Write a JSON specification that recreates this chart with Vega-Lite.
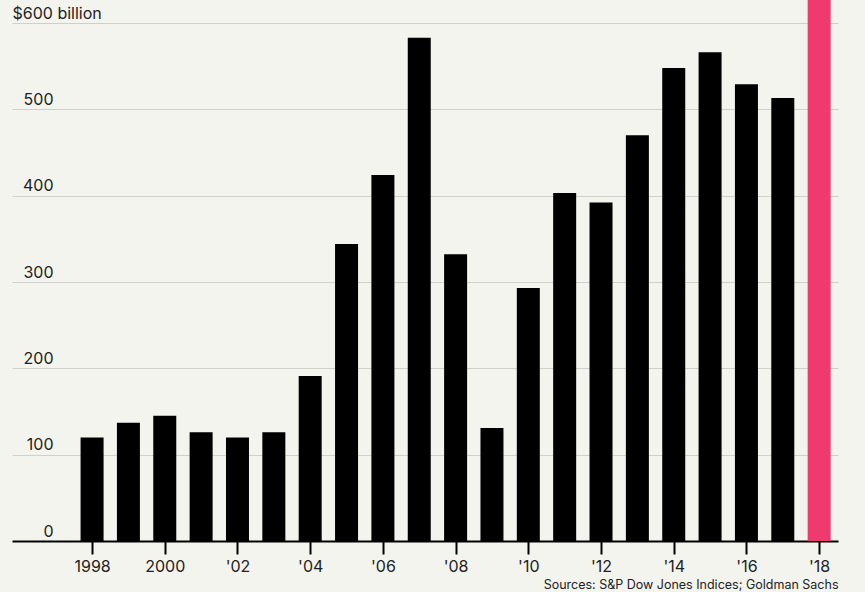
{
  "$schema": "https://vega.github.io/schema/vega-lite/v6.json",
  "width": 826,
  "height": 518,
  "autosize": "none",
  "padding": {"left": 12, "top": 23, "right": 27, "bottom": 51},
  "background": "#f4f4ef",
  "config": {
    "view": {"stroke": null},
    "font": "Inter"
  },
  "data": {
    "values": [
      {"year": 1998, "value": 120, "projected": "no"},
      {"year": 1999, "value": 137, "projected": "no"},
      {"year": 2000, "value": 145, "projected": "no"},
      {"year": 2001, "value": 126, "projected": "no"},
      {"year": 2002, "value": 120, "projected": "no"},
      {"year": 2003, "value": 126, "projected": "no"},
      {"year": 2004, "value": 191, "projected": "no"},
      {"year": 2005, "value": 344, "projected": "no"},
      {"year": 2006, "value": 424, "projected": "no"},
      {"year": 2007, "value": 583, "projected": "no"},
      {"year": 2008, "value": 332, "projected": "no"},
      {"year": 2009, "value": 131, "projected": "no"},
      {"year": 2010, "value": 293, "projected": "no"},
      {"year": 2011, "value": 403, "projected": "no"},
      {"year": 2012, "value": 392, "projected": "no"},
      {"year": 2013, "value": 470, "projected": "no"},
      {"year": 2014, "value": 548, "projected": "no"},
      {"year": 2015, "value": 566, "projected": "no"},
      {"year": 2016, "value": 529, "projected": "no"},
      {"year": 2017, "value": 513, "projected": "no"},
      {"year": 2018, "value": 660, "projected": "yes"}
    ]
  },
  "mark": {"type": "bar", "size": 23, "clip": false},
  "encoding": {
    "x": {
      "field": "year",
      "type": "quantitative",
      "scale": {"domain": [1995.935, 2018.381], "nice": false, "zero": false},
      "axis": {
        "values": [1998, 2000, 2002, 2004, 2006, 2008, 2010, 2012, 2014, 2016, 2018],
        "labelExpr": "datum.value <= 2000 ? toString(datum.value) : \"'\" + substring(toString(datum.value), 2, 4)",
        "grid": false,
        "domain": true,
        "domainColor": "#000000",
        "domainWidth": 2,
        "ticks": true,
        "tickColor": "#000000",
        "tickWidth": 2,
        "tickSize": 13,
        "labelPadding": 4,
        "labelFontSize": 16,
        "labelColor": "#222222",
        "labelFlush": false,
        "labelOverlap": false,
        "title": "Sources: S&P Dow Jones Indices; Goldman Sachs",
        "titleAnchor": "end",
        "titleAlign": "right",
        "titleX": 826,
        "titleY": 47,
        "titleBaseline": "alphabetic",
        "titleFontSize": 12.5,
        "titleFontWeight": "normal",
        "titleColor": "#222222"
      }
    },
    "y": {
      "field": "value",
      "type": "quantitative",
      "scale": {"domain": [0, 600], "nice": false},
      "axis": {
        "values": [0, 100, 200, 300, 400, 500, 600],
        "labelExpr": "datum.value == 600 ? '$600 billion' : datum.label",
        "domain": false,
        "ticks": false,
        "grid": true,
        "gridColor": "#cfcfcb",
        "gridWidth": 1,
        "labelAlign": {"condition": {"test": "datum.value == 600", "value": "left"}, "value": "right"},
        "labelPadding": {"condition": {"test": "datum.value == 600", "value": 0}, "value": -41},
        "labelBaseline": "alphabetic",
        "labelOffset": -5,
        "labelFontSize": 16,
        "labelColor": "#222222",
        "labelFlush": false,
        "labelOverlap": false,
        "title": null
      }
    },
    "color": {
      "field": "projected",
      "type": "nominal",
      "scale": {"domain": ["no", "yes"], "range": ["#000000", "#ee3a6e"]},
      "legend": null
    }
  }
}
